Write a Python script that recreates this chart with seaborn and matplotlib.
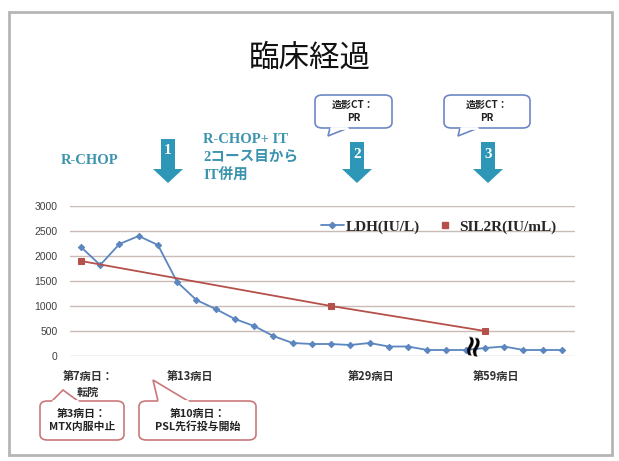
import numpy as np
import pandas as pd
import matplotlib
matplotlib.use("Agg")
import matplotlib.pyplot as plt
import seaborn as sns
from matplotlib.patches import FancyBboxPatch, Polygon, Rectangle
from matplotlib.lines import Line2D

# ---- data ----
ldh_x = list(range(26))
ldh_values = [2180, 1820, 2240, 2400, 2220, 1480, 1120, 940, 740, 600,
              400, 260, 240, 240, 220, 260, 190, 190, 120, 120,
              120, 160, 190, 120, 120, 120]
sil2r_x = [0, 13, 21]
sil2r_values = [1900, 1000, 500]
y_ticks = [0, 500, 1000, 1500, 2000, 2500, 3000]
day_labels = ["第7病日：\n転院", "第13病日", "第29病日", "第59病日"]
day_pos = [0.36, 5.67, 15.1, 21.6]
callout_bottom = ["第3病日：\nMTX内服中止", "第10病日：\nPSL先行投与開始"]
callout_top = ["造影CT：\nPR", "造影CT：\nPR"]
title = "臨床経過"
legend_labels = ["LDH(IU/L)", "SIL2R(IU/mL)"]

sns.set_theme(style="white")
plt.rcParams['font.family'] = ['Noto Sans CJK JP', 'DejaVu Sans']

W, H = 619, 461
fig = plt.figure(figsize=(W / 100, H / 100), dpi=100)

def fx(px):
    return px / W

def fy(py):
    return 1 - py / H

# plot area: x from 70 to 575 px, y from 206 (3000) to 356 (0)
ax = fig.add_axes([fx(70), fy(356), fx(575) - fx(70), fy(206) - fy(356)])

df_ldh = pd.DataFrame({"x": ldh_x, "y": ldh_values})
df_sil = pd.DataFrame({"x": sil2r_x, "y": sil2r_values})

blue = "#5B86C0"
red = "#B5504A"
sns.lineplot(data=df_ldh, x="x", y="y", ax=ax, color=blue, lw=1.3,
             marker="D", markersize=3.2, markeredgecolor=blue, clip_on=False)
sns.lineplot(data=df_sil, x="x", y="y", ax=ax, color=red, lw=1.3,
             marker="s", markersize=4.5, markeredgecolor=red, clip_on=False)

ax.set_xlim(-0.57, 25.68)
ax.set_ylim(0, 3000)
ax.set_yticks(y_ticks)
ax.set_yticklabels([str(v) for v in y_ticks], fontsize=7.5, color="#404040",
                   family=['Liberation Sans', 'DejaVu Sans'])
ax.set_xticks([])
ax.set_xlabel("")
ax.set_ylabel("")
ax.tick_params(axis="y", length=0, pad=9)
for s in ax.spines.values():
    s.set_visible(False)
ax.yaxis.grid(True, color="#C9BBB5", lw=1)
ax.set_axisbelow(True)
ax.patch.set_alpha(0)

# legend
h1 = Line2D([], [], color=blue, lw=1.3, marker="D", markersize=3.2)
h2 = Line2D([], [], color=red, lw=0, marker="s", markersize=4.5)
leg = ax.legend([h1, h2], legend_labels, loc="center right",
                bbox_to_anchor=(0.99, 0.86), ncol=2, frameon=False,
                prop={"family": "Liberation Serif", "weight": "bold", "size": 11},
                handlelength=1.5, handletextpad=0.15, columnspacing=0.9)

# break marker
ax.text(20.35, 260, "≈", rotation=80, fontsize=21, color="black",
        ha="center", va="center", family="DejaVu Sans", fontweight="bold")

# day labels
for lab, p in zip(day_labels, day_pos):
    ax.text(p, -0.09, lab, transform=ax.get_xaxis_transform(), ha="center",
            va="top", fontsize=8, color="#303030", linespacing=1.35,
            fontweight="bold")

# title
fig.text(fx(310), fy(58), title, ha="center", va="center", fontsize=22,
         color="#111111")

# frame
fig.patches.append(Rectangle((fx(9), fy(455)), fx(612) - fx(9), fy(12) - fy(455),
                             transform=fig.transFigure, fill=False,
                             ec="#B5B5B5", lw=2))

teal = "#3C93AD"
arrow_c = "#2E97B8"

# treatment texts
fig.text(fx(90), fy(160), "R-CHOP", ha="center", va="center", fontsize=10.5,
         color=teal, fontweight="bold", family=['Liberation Serif', 'Noto Sans CJK JP'])
fig.text(fx(203), fy(158), "R-CHOP+ IT\n2コース目から\nIT併用", ha="left", va="center",
         fontsize=10.5, color=teal, fontweight="bold", linespacing=1.4,
         family=['Liberation Serif', 'Noto Sans CJK JP'])

# down arrows with numbers
def down_arrow(cx, top, bottom, num):
    shaft_w = 14
    head_w = 30
    head_h = 14
    pts = [(cx - shaft_w / 2, top), (cx + shaft_w / 2, top),
           (cx + shaft_w / 2, bottom - head_h), (cx + head_w / 2, bottom - head_h),
           (cx, bottom), (cx - head_w / 2, bottom - head_h),
           (cx - shaft_w / 2, bottom - head_h)]
    poly = Polygon([(fx(x), fy(y)) for x, y in pts], closed=True,
                   transform=fig.transFigure, fc=arrow_c, ec="none")
    fig.patches.append(poly)
    fig.text(fx(cx), fy(top + 12), num, ha="center", va="center", fontsize=11,
             color="white", fontweight="bold", family="Liberation Serif")

down_arrow(168, 139, 183, "1")
down_arrow(357, 142, 183, "2")
down_arrow(488, 142, 183, "3")

# callouts
def callout(x0, y0, x1, y1, tip, base, text, ec, fs):
    box = FancyBboxPatch((fx(x0), fy(y1)), fx(x1) - fx(x0), fy(y0) - fy(y1),
                         boxstyle="round,pad=0,rounding_size=0.012",
                         transform=fig.transFigure, fc="white", ec=ec, lw=1.2,
                         zorder=5)
    fig.patches.append(box)
    tri = Polygon([(fx(base[0]), fy(base[1])), (fx(tip[0]), fy(tip[1])),
                   (fx(base[2]), fy(base[3]))], closed=False,
                  transform=fig.transFigure, fc="white", ec=ec, lw=1.2, zorder=6)
    fig.patches.append(tri)
    fig.lines.append(Line2D([fx(base[0] + 1), fx(base[2] - 1)],
                            [fy(base[1]), fy(base[3])],
                            transform=fig.transFigure, color="white", lw=2,
                            zorder=7))
    fig.text(fx((x0 + x1) / 2), fy((y0 + y1) / 2), text, ha="center",
             va="center", fontsize=fs, color="#222222", fontweight="bold",
             linespacing=1.3, zorder=8)

red_ec = "#C9787A"
blue_ec = "#6D87C4"
callout(40, 401, 124, 440, (63, 390), (52, 401, 78, 401), callout_bottom[0], red_ec, 7.8)
callout(139, 401, 256, 440, (153, 380), (158, 401, 188, 401), callout_bottom[1], red_ec, 7.8)
callout(315, 95, 392, 128, (328, 136), (330, 128, 348, 128), callout_top[0], blue_ec, 7.2)
callout(444, 95, 530, 128, (458, 136), (460, 128, 478, 128), callout_top[1], blue_ec, 7.2)

fig.savefig("out.png", dpi=100)
